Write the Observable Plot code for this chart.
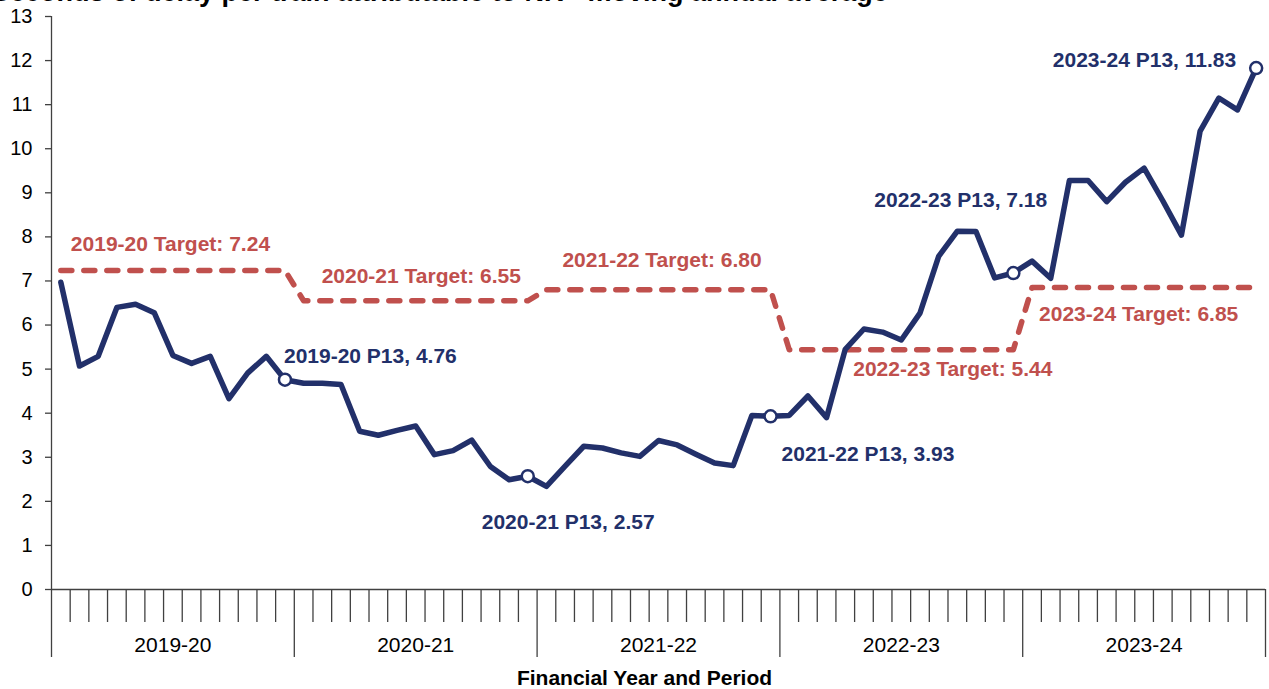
<!DOCTYPE html>
<html>
<head>
<meta charset="utf-8">
<script src="https://cdn.jsdelivr.net/npm/d3@7"></script>
<script src="https://cdn.jsdelivr.net/npm/@observablehq/plot@0.6"></script>
<style>
  html, body { margin: 0; padding: 0; background: #fff; }
  #wrap { position: relative; width: 1269px; height: 689px; overflow: hidden; background: #fff; }
  #title { position: absolute; left: -8px; top: -21px; font: bold 27px/27px "Liberation Sans", Arial, sans-serif; white-space: nowrap; color: #000; }
  #chart { position: absolute; left: 0; top: 0; }
</style>
</head>
<body>
<div id="wrap">
  <div id="chart"></div>
  <div id="title">Seconds of delay per train attributable to NR - moving annual average</div>
</div>
<script>
// ---- Data ----
const years = ["2019-20", "2020-21", "2021-22", "2022-23", "2023-24"];
const periodsPerYear = 13;
const targets = [7.24, 6.55, 6.80, 5.44, 6.85];
const movingAverage = [
  // 2019-20 P1..P13
  6.97, 5.07, 5.29, 6.40, 6.47, 6.28, 5.31, 5.13, 5.29, 4.33, 4.91, 5.29, 4.76,
  // 2020-21
  4.68, 4.68, 4.65, 3.59, 3.50, 3.61, 3.71, 3.06, 3.15, 3.39, 2.79, 2.49, 2.57,
  // 2021-22
  2.34, 2.80, 3.25, 3.21, 3.10, 3.02, 3.38, 3.28, 3.07, 2.87, 2.81, 3.95, 3.93,
  // 2022-23
  3.95, 4.39, 3.90, 5.45, 5.91, 5.84, 5.66, 6.27, 7.56, 8.13, 8.12, 7.07, 7.18,
  // 2023-24
  7.45, 7.06, 9.28, 9.28, 8.80, 9.24, 9.56, 8.82, 8.04, 10.40, 11.15, 10.88, 11.83
];
const xAxisTitle = "Financial Year and Period";

// ---- Derived table ----
const rows = movingAverage.map((v, i) => {
  const k = Math.floor(i / periodsPerYear);
  return { i, pos: i + 0.5, value: v, target: targets[k], year: years[k], period: (i % periodsPerYear) + 1 };
});
const p13Rows = rows.filter(d => d.period === periodsPerYear);
const firstRows = rows.filter(d => d.period === 1);

// ---- Styling / layout (not data) ----
const navy = "#22306A";
const red = "#C0504D";
const axisColor = "#404040";
const font = "'Liberation Sans', Arial, sans-serif";
const labelSize = 21;
const targetLabelLayout = [
  { dx: 10, dy: -26 },
  { dx: 18, dy: -25 },
  { dx: 16, dy: -30 },
  { dx: 64, dy: 20 },
  { dx: 7, dy: 27 }
];
const p13LabelLayout = [
  { dx: -1, dy: -23, anchor: "start" },
  { dx: -46, dy: 46, anchor: "start" },
  { dx: 11, dy: 38, anchor: "start" },
  { dx: -139, dy: -73, anchor: "start" },
  { dx: -20, dy: -8, anchor: "end" }
];

const nPeriods = movingAverage.length;
const boundaries = d3.range(0, nPeriods + 1);
const yearBoundaries = boundaries.filter(b => b % periodsPerYear === 0);
const periodBoundaries = boundaries.filter(b => b % periodsPerYear !== 0);
const yearCenters = years.map((_, k) => k * periodsPerYear + periodsPerYear / 2);

const targetLabelMarks = firstRows.map((d, k) =>
  Plot.text([d], {
    x: "pos", y: "target",
    text: r => `${r.year} Target: ${r.target.toFixed(2)}`,
    dx: targetLabelLayout[k].dx, dy: targetLabelLayout[k].dy,
    textAnchor: "start", lineAnchor: "middle",
    fill: red, fontWeight: "bold", fontSize: labelSize
  })
);
const p13LabelMarks = p13Rows.map((d, k) =>
  Plot.text([d], {
    x: "pos", y: "value",
    text: r => `${r.year} P13, ${r.value.toFixed(2)}`,
    dx: p13LabelLayout[k].dx, dy: p13LabelLayout[k].dy,
    textAnchor: p13LabelLayout[k].anchor, lineAnchor: "middle",
    fill: navy, fontWeight: "bold", fontSize: labelSize
  })
);

const chart = Plot.plot({
  width: 1269,
  height: 689,
  marginTop: 16,
  marginRight: 4,
  marginBottom: 100,
  marginLeft: 51,
  style: { fontFamily: font, fontSize: "20px", background: "white", color: "#000", overflow: "visible" },
  x: { type: "linear", domain: [0, nPeriods], label: null },
  y: { domain: [0, 13], label: null },
  marks: [
    Plot.axisY({ ticks: d3.range(0, 14), tickSize: 6, tickPadding: 13, fontSize: 20, stroke: axisColor, strokeWidth: 1.3, tickFormat: d => String(d), label: null }),
    Plot.axisX({ ticks: periodBoundaries, tickSize: 33, tickFormat: () => "", stroke: axisColor, strokeWidth: 1.3, label: null }),
    Plot.axisX({ ticks: yearBoundaries, tickSize: 68, tickFormat: () => "", stroke: axisColor, strokeWidth: 1.3, label: null }),
    Plot.axisX({ ticks: yearCenters, tickSize: 0, tickPadding: 48, fontSize: 21, tickFormat: t => years[Math.floor(t / periodsPerYear)], label: null }),
    Plot.ruleX([0], { stroke: axisColor, strokeWidth: 1.3 }),
    Plot.ruleY([0], { stroke: axisColor, strokeWidth: 1.3 }),
    Plot.line(rows, { x: "pos", y: "target", stroke: red, strokeWidth: 5.5, strokeDasharray: "11 12", strokeLinecap: "round", strokeLinejoin: "round" }),
    Plot.line(rows, { x: "pos", y: "value", stroke: navy, strokeWidth: 5.5, strokeLinejoin: "round", strokeLinecap: "round" }),
    Plot.dot(p13Rows, { x: "pos", y: "value", r: 6, fill: "white", stroke: navy, strokeWidth: 2.5 }),
    ...targetLabelMarks,
    ...p13LabelMarks,
    Plot.text([xAxisTitle], { frameAnchor: "bottom", text: d => d, dx: -14, dy: 89, lineAnchor: "middle", fontWeight: "bold", fontSize: 21, fill: "#000" })
  ]
});
document.getElementById("chart").appendChild(chart);
</script>
</body>
</html>
